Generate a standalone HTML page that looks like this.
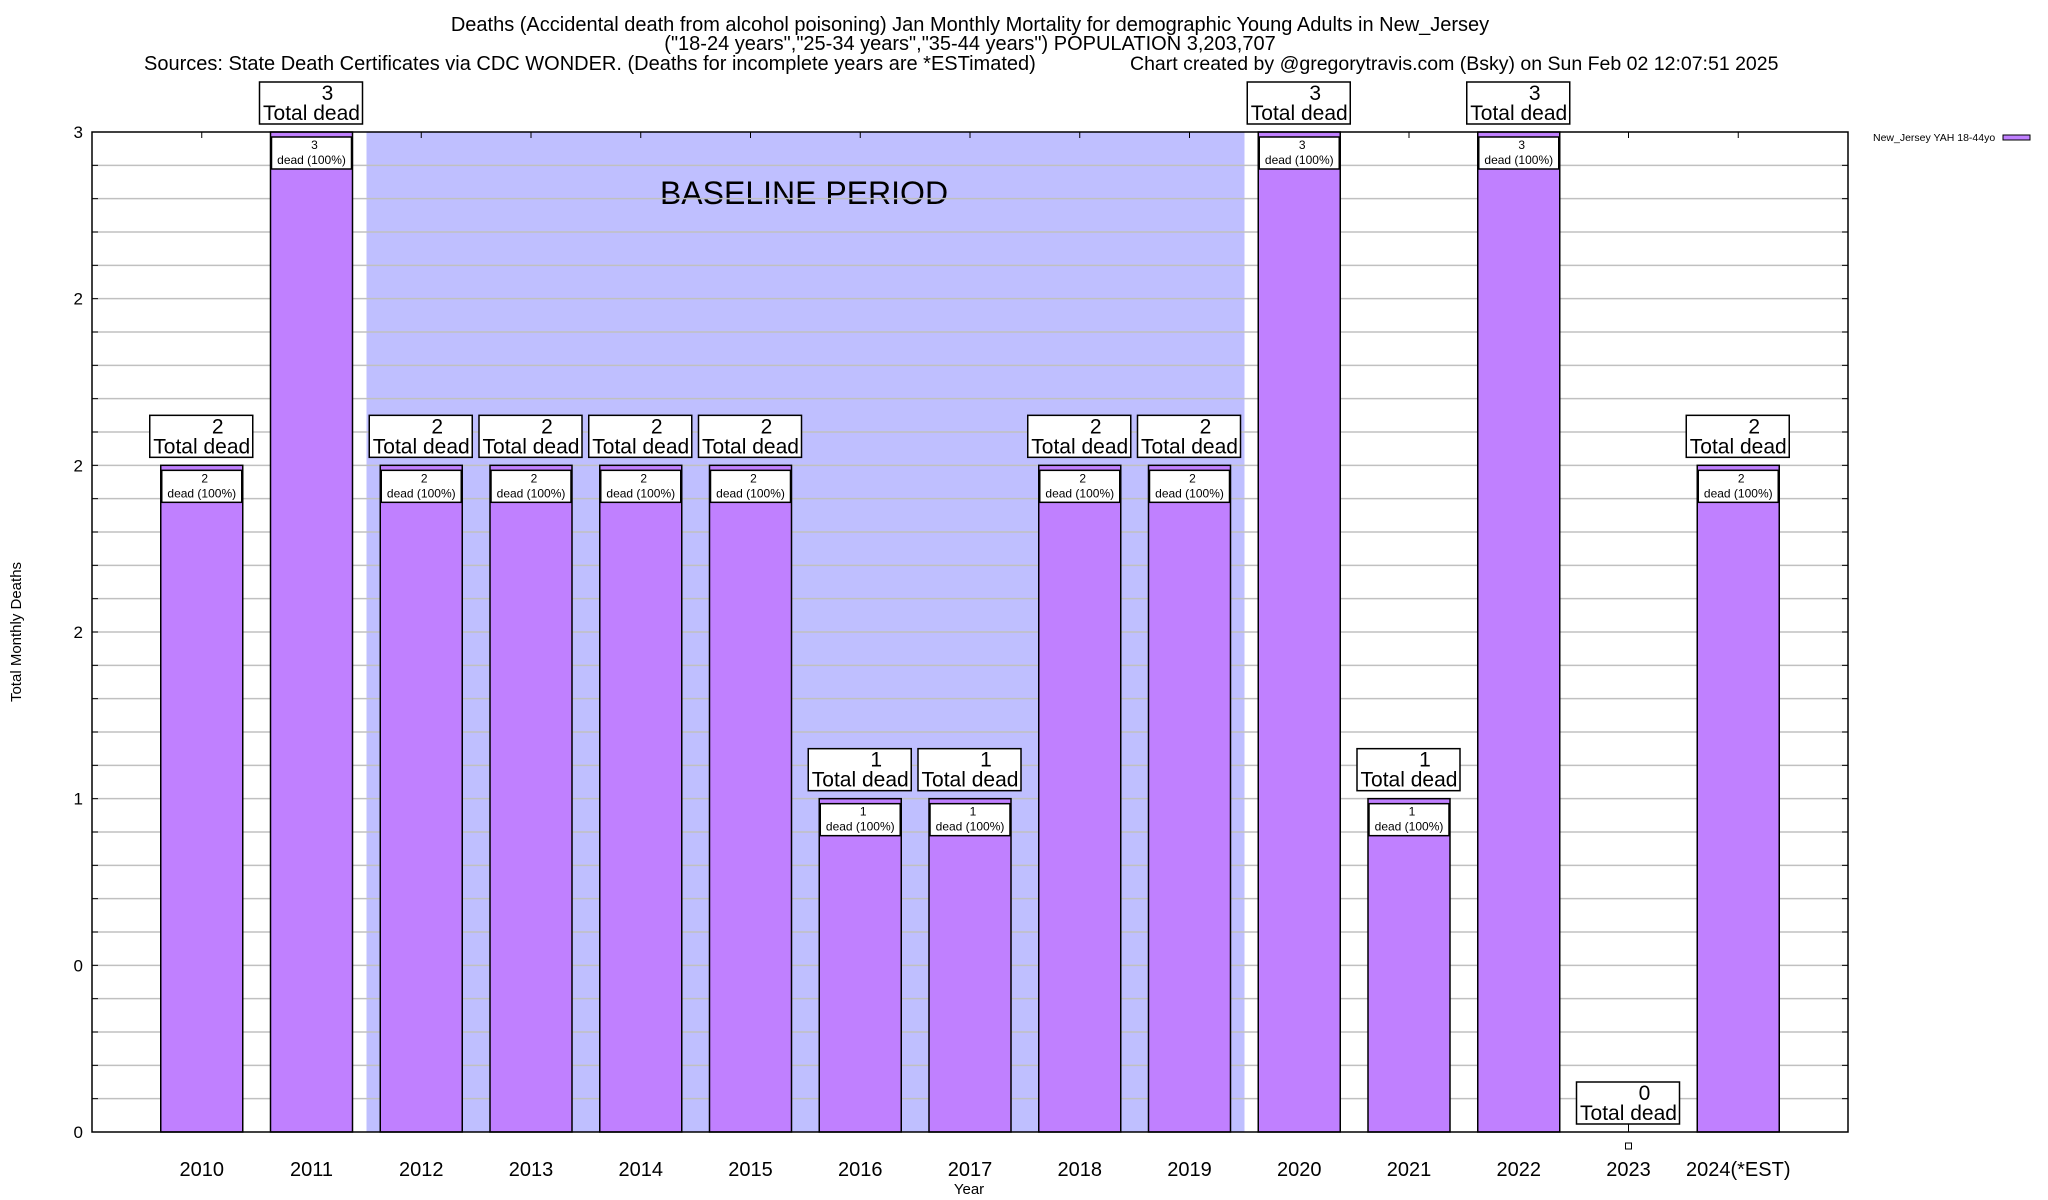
<!DOCTYPE html>
<html><head><meta charset="utf-8"><style>
html,body{margin:0;padding:0;background:#fff;}
svg{display:block;font-family:"Liberation Sans",Arial,sans-serif;}
</style></head><body>
<svg id="chart" width="2048" height="1200" viewBox="0 0 2048 1200">
<text x="970" y="31" text-anchor="middle" font-size="20">Deaths (Accidental death from alcohol poisoning) Jan Monthly Mortality for demographic Young Adults in New_Jersey</text>
<text x="970" y="50" text-anchor="middle" font-size="20">("18-24 years","25-34 years","35-44 years") POPULATION 3,203,707</text>
<text x="144" y="70" font-size="20">Sources: State Death Certificates via CDC WONDER. (Deaths for incomplete years are *ESTimated)</text>
<text x="1130" y="70" font-size="19.5">Chart created by @gregorytravis.com (Bsky) on Sun Feb 02 12:07:51 2025</text>
<text transform="translate(21,632) rotate(-90)" text-anchor="middle" font-size="15">Total Monthly Deaths</text>
<text x="969" y="1194" text-anchor="middle" font-size="15">Year</text>
<text x="1873" y="141" font-size="10.5">New_Jersey YAH 18-44yo</text>
<rect x="2003" y="135" width="27" height="5" fill="#c080ff" stroke="#000" stroke-width="1"/>
<g id="plot"></g>
</svg>
<script>
const categories = ["2010","2011","2012","2013","2014","2015","2016","2017","2018","2019","2020","2021","2022","2023","2024(*EST)"];
const deaths = [2,3,2,2,2,2,1,1,2,2,3,1,3,0,2];
const yTicks = [0,0.5,1,1.5,2,2.5,3];
const yTickLabels = ["0","0","1","2","2","2","3"];
const baselineStart = 1;
const baselineEnd = 9;

const NS="http://www.w3.org/2000/svg";
const L=92,R=1848,T=132,B=1132,yMax=3;
const slot=(R-L)/(categories.length+1);
const xc=i=>L+(i+1)*slot;
const y=v=>B-(v/yMax)*(B-T);
const bw=82;
const g=document.getElementById('plot');
function mk(tag,attrs,parent){const e=document.createElementNS(NS,tag);for(const k in attrs)e.setAttribute(k,attrs[k]);(parent||g).appendChild(e);return e;}

const sh=mk('rect',{x:xc(baselineStart)+55,y:T,width:xc(baselineEnd)-xc(baselineStart),height:B-T,fill:'#bfbfff'});


const bt=mk('text',{x:804,y:204,'text-anchor':'middle','font-size':32});
bt.textContent='BASELINE PERIOD';



for(let k=1;k<30;k++){
  const gy=y(k*0.1);
  const gl=mk('line',{x1:L,x2:R,y1:gy,y2:gy,stroke:'#c0c0c0','stroke-width':1.5});
  
  
  mk('line',{x1:L,x2:L+6,y1:gy,y2:gy,stroke:'#000','stroke-width':1});
  mk('line',{x1:R-6,x2:R,y1:gy,y2:gy,stroke:'#000','stroke-width':1});
}
yTicks.forEach((v,i)=>{
  const t=mk('text',{x:83,y:y(v)+6,'text-anchor':'end','font-size':17});
  t.textContent=yTickLabels[i];
  
  
});

categories.forEach((c,i)=>{
  const cx=xc(i),v=deaths[i];
  mk('line',{x1:cx,x2:cx,y1:T,y2:T+6,stroke:'#000','stroke-width':1});
  const xl=mk('text',{x:cx,y:1176,'text-anchor':'middle','font-size':20});
  xl.textContent=c;
  
  
  if(v>0){
    const b=mk('rect',{x:cx-bw/2,y:y(v),width:bw,height:B-y(v),fill:'#c080ff',stroke:'#000','stroke-width':1.5});
    
    
    const ib=mk('rect',{x:cx-bw/2+1,y:y(v)+5,width:bw-2,height:32,fill:'#fff',stroke:'#000','stroke-width':1.5});
    
    
    const t1=mk('text',{x:cx+3,y:y(v)+17,'text-anchor':'middle','font-size':12});
    t1.textContent=String(v);
    
    
    const t2=mk('text',{x:cx,y:y(v)+32,'text-anchor':'middle','font-size':12});
    t2.textContent='dead (100%)';
    
    
  } else {
    mk('line',{x1:cx,x2:cx,y1:B-8,y2:B,stroke:'#000','stroke-width':1});
    const m=mk('rect',{x:cx-3,y:B+11,width:6,height:6,fill:'#fff',stroke:'#000','stroke-width':1});
    
    
  }
  const top=(v>0?y(v):B)-8;
  const box=mk('rect',{x:cx-52,y:top-42,width:103,height:42,fill:'#fff',stroke:'#000','stroke-width':1.5});
  
  
  const n=mk('text',{x:cx+16,y:top-24,'text-anchor':'middle','font-size':21});
  n.textContent=String(v);
  
  
  const td=mk('text',{x:cx,y:top-4,'text-anchor':'middle','font-size':21});
  td.textContent='Total dead';
  
  
});

const fr=mk('rect',{x:L,y:T,width:R-L,height:B-T,fill:'none',stroke:'#000','stroke-width':1.5});


</script>
</body></html>
